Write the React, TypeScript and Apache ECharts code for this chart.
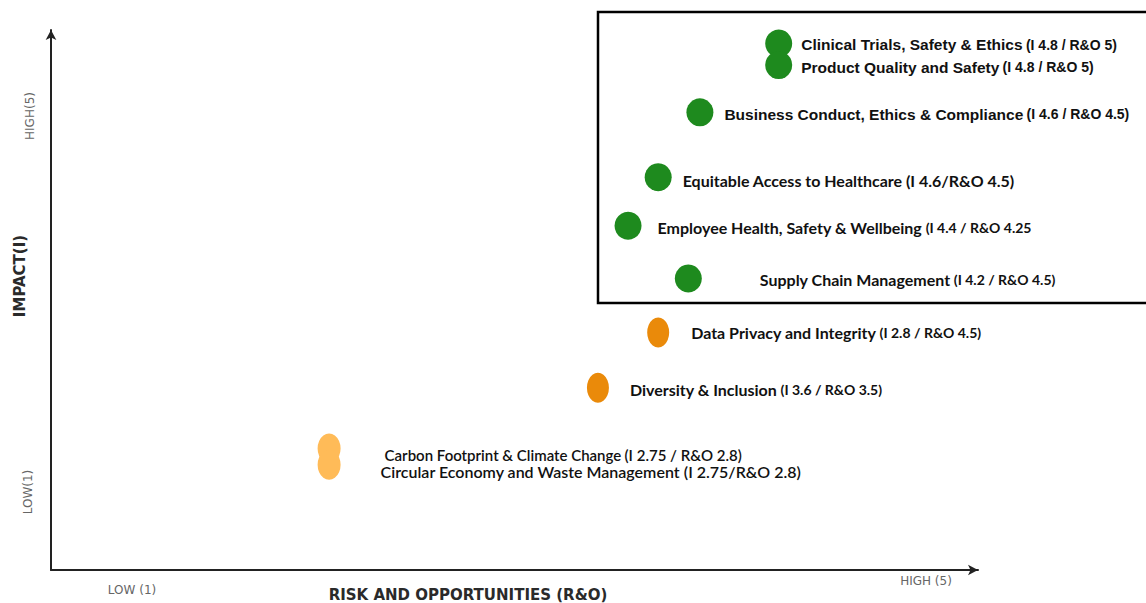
import React, { useEffect, useRef } from "react";
import * as echarts from "echarts";

// Topics (materiality matrix)
const topics = [
  "Clinical Trials, Safety & Ethics",
  "Product Quality and Safety",
  "Business Conduct, Ethics & Compliance",
  "Equitable Access to Healthcare",
  "Employee Health, Safety & Wellbeing",
  "Supply Chain Management",
  "Data Privacy and Integrity",
  "Diversity & Inclusion",
  "Carbon Footprint & Climate Change",
  "Circular Economy and Waste Management",
];
const notes = [
  "(I 4.8 / R&O 5)",
  "(I 4.8 / R&O 5)",
  "(I 4.6 / R&O 4.5)",
  "(I 4.6/R&O 4.5)",
  "(I 4.4 / R&O 4.25",
  "(I 4.2 / R&O 4.5)",
  "(I 2.8 / R&O 4.5)",
  "(I 3.6 / R&O 3.5)",
  "(I 2.75 / R&O 2.8)",
  "(I 2.75/R&O 2.8)",
];
// plotted positions (1..5 scales)
const riskPos = [4.14, 4.14, 3.8, 3.62, 3.49, 3.75, 3.62, 3.36, 2.2, 2.2];
const impactPos = [4.9, 4.74, 4.39, 3.91, 3.55, 3.16, 2.76, 2.35, 1.9, 1.78];
const tier = ["high", "high", "high", "high", "high", "high", "mid", "mid", "low", "low"];

const xTicks = ["LOW (1)", "HIGH (5)"];
const yTicks = ["LOW(1)", "HIGH(5)"];

const tierColor: Record<string, string> = { high: "#1e8a1e", mid: "#ea8a0a", low: "#ffbb58" };
const tierSize: Record<string, number[]> = { high: [27, 28], mid: [22, 30], low: [23, 30] };

// label style per item (gap from marker, vertical shift, font sizes)
const labelGap = [9, 9, 11, 11, 16, 58, 22, 21, 44, 40];
const labelDy = [1, 2, 2, 3, 2, 1, 0, 2, 6, 7];
const nameSize = [15.5, 15.5, 15.5, 16, 16, 16, 16, 16, 15, 16];
const noteSize = [14, 14, 14, 16, 14, 14, 14, 14, 15, 16];
const arialItems = [0, 1, 2];

export default function App() {
  const ref = useRef<HTMLDivElement>(null);
  useEffect(() => {
    const chart = echarts.init(ref.current!, undefined, { renderer: "svg" });
    const data = topics.map((name, i) => {
      const t = tier[i];
      const arial = arialItems.includes(i);
      const fam = arial ? "Liberation Sans" : "Lato";
      const low = t === "low";
      return {
        name,
        value: [riskPos[i], impactPos[i]],
        symbolSize: tierSize[t],
        itemStyle: { color: tierColor[t], opacity: 1 },
        label: {
          show: true,
          position: "right",
          distance: labelGap[i],
          offset: [0, labelDy[i]],
          formatter: `{n|${name}} {s|${notes[i]}}`,
          rich: {
            n: { fontFamily: fam, fontWeight: low ? 600 : "bold", fontSize: nameSize[i], color: "#111" },
            s: { fontFamily: fam, fontWeight: low ? 600 : "bold", fontSize: noteSize[i], color: "#111" },
          },
        },
      };
    });
    const tickStyle = { fontFamily: "DejaVu Sans", fontSize: 12, fill: "#666", align: "center", verticalAlign: "middle" };
    const titleStyle = { fontFamily: "DejaVu Sans", fontWeight: "bold", fontSize: 15, fill: "#2a2a2a", align: "center", verticalAlign: "middle" };
    chart.setOption({
      animation: false,
      grid: { left: 51, top: 30, right: 168, bottom: 33 },
      xAxis: {
        type: "value",
        min: 1,
        max: 5,
        axisLine: {
          show: true,
          symbol: ["none", "arrow"],
          symbolSize: [8, 10],
          lineStyle: { color: "#222", width: 2 },
        },
        axisTick: { show: false },
        axisLabel: { show: false },
        splitLine: { show: false },
      },
      yAxis: {
        type: "value",
        min: 1,
        max: 5,
        axisLine: {
          show: true,
          symbol: ["none", "arrow"],
          symbolSize: [8, 10],
          lineStyle: { color: "#222", width: 2 },
        },
        axisTick: { show: false },
        axisLabel: { show: false },
        splitLine: { show: false },
      },
      series: [
        {
          type: "scatter",
          data,
          symbol: "circle",
        },
      ],
      graphic: [
        {
          type: "rect",
          shape: { x: 598, y: 12, width: 560, height: 291 },
          style: { fill: "none", stroke: "#000", lineWidth: 2.5 },
          z: 0,
        },
        { type: "text", x: 30, y: 116, rotation: Math.PI / 2, style: { ...tickStyle, text: yTicks[1] } },
        { type: "text", x: 28, y: 492, rotation: Math.PI / 2, style: { ...tickStyle, text: yTicks[0] } },
        { type: "text", x: 20, y: 276, rotation: Math.PI / 2, style: { ...titleStyle, text: "IMPACT(I)" } },
        { type: "text", x: 132, y: 590, style: { ...tickStyle, text: xTicks[0] } },
        { type: "text", x: 926, y: 581, style: { ...tickStyle, text: xTicks[1] } },
        { type: "text", x: 468, y: 595, style: { ...titleStyle, text: "RISK AND OPPORTUNITIES (R&O)" } },
      ],
    });
    return () => chart.dispose();
  }, []);
  return (
    <div
      ref={ref}
      style={{ position: "fixed", left: 0, top: 0, width: 1146, height: 603, background: "#fff" }}
    />
  );
}
